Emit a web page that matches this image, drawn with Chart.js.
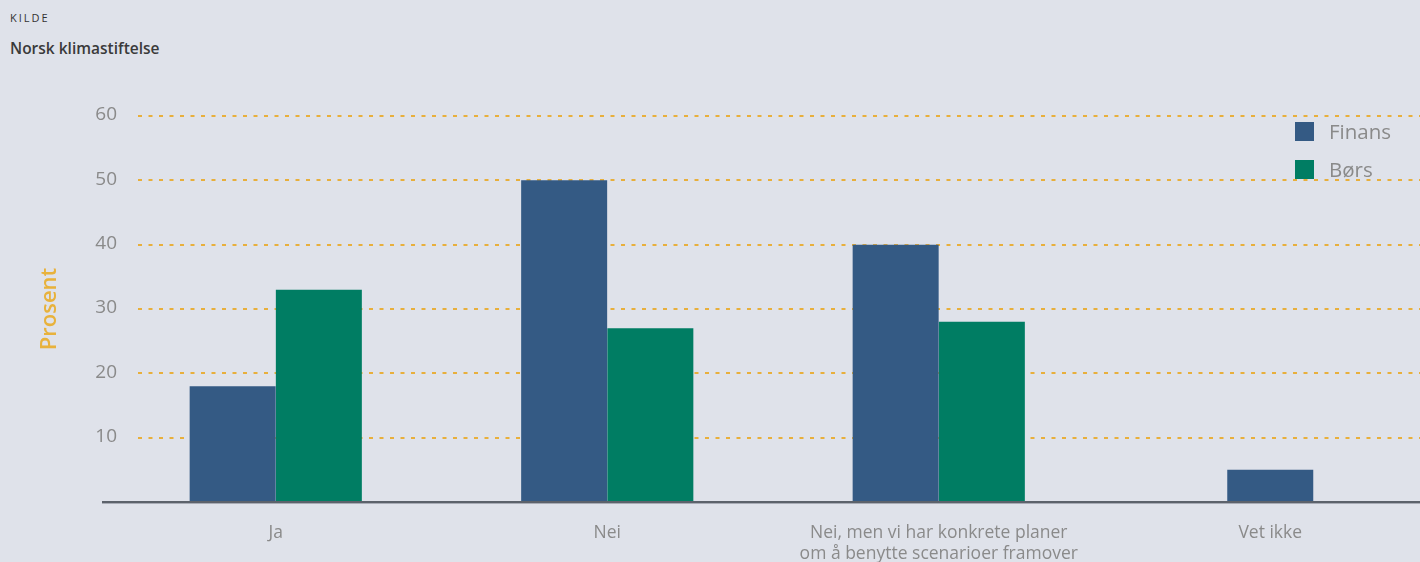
<!DOCTYPE html>
<html>
<head>
<meta charset="utf-8">
<script src="https://cdn.jsdelivr.net/npm/chart.js@4/dist/chart.umd.min.js"></script>
<style>
  html, body { margin: 0; padding: 0; background: #dfe2ea; overflow: hidden; width: 1420px; height: 562px; }
  #wrap { position: relative; width: 1420px; height: 562px; overflow: hidden; font-family: "Open Sans", Lato, sans-serif; }
  #kilde { position: absolute; left: 10px; top: 10px; font-size: 11px; letter-spacing: 2px; color: #333; font-weight: 500; }
  #src { position: absolute; left: 10px; top: 37px; font-size: 15.5px; color: #3a3a3a; font-weight: 600; }
  #cv { position: absolute; left: 0; top: 0; }
  #legend { position: absolute; left: 1295px; top: 112px; }
  .li { display: flex; align-items: center; height: 38px; font-size: 20.5px; color: #8a8a8a; }
  .li span.box { width: 19px; height: 19px; margin-right: 15px; display: inline-block; }
</style>
</head>
<body>
<div id="wrap">
  <div id="kilde">KILDE</div>
  <div id="src">Norsk klimastiftelse</div>
  <canvas id="cv" width="1436" height="562"></canvas>
  <div id="legend"></div>
</div>
<script>
const categories = ["Ja", "Nei", ["Nei, men vi har konkrete planer", "om å benytte scenarioer framover"], "Vet ikke"];
const finans = [18, 50, 40, 5];
const bors = [33, 27, 28, null];
const seriesNames = ["Finans", "Børs"];
const seriesColors = ["#345a84", "#007d63"];
const yTicks = [10, 20, 30, 40, 50, 60];
const yTitle = "Prosent";

const gridPlugin = {
  id: 'customGrid',
  beforeDatasetsDraw(chart) {
    const ctx = chart.ctx, y = chart.scales.y;
    ctx.save();
    ctx.strokeStyle = '#e8af3c';
    ctx.lineWidth = 2;
    ctx.setLineDash([4, 6.5]);
    yTicks.forEach(v => {
      const py = Math.round(y.getPixelForValue(v));
      ctx.beginPath();
      ctx.moveTo(138, py);
      ctx.lineTo(chart.width, py);
      ctx.stroke();
    });
    ctx.setLineDash([]);
    ctx.fillStyle = '#8a8a8a';
    ctx.font = '19px "Open Sans"';
    ctx.textAlign = 'right';
    ctx.textBaseline = 'middle';
    yTicks.forEach(v => {
      ctx.fillText(String(v), 117, y.getPixelForValue(v) - 1);
    });
    ctx.restore();
  },
  afterDatasetsDraw(chart) {
    const ctx = chart.ctx, y = chart.scales.y;
    const py = y.getPixelForValue(0);
    ctx.save();
    ctx.fillStyle = '#5c626b';
    ctx.fillRect(102, py - 1, chart.width - 102, 2);
    ctx.fillStyle = '#a8acb6';
    ctx.fillRect(102, py + 1, chart.width - 102, 1);
    ctx.restore();
  }
};

const chart = new Chart(document.getElementById('cv'), {
  type: 'bar',
  data: {
    labels: categories,
    datasets: [
      { label: seriesNames[0], data: finans, backgroundColor: seriesColors[0], skipNull: true },
      { label: seriesNames[1], data: bors, backgroundColor: seriesColors[1], skipNull: true }
    ]
  },
  options: {
    responsive: false,
    animation: false,
    devicePixelRatio: 1,
    layout: { padding: { top: 116, right: 0, left: 0, bottom: 0 } },
    datasets: { bar: { categoryPercentage: 0.52, barPercentage: 1.0, maxBarThickness: 86 } },
    plugins: {
      legend: { display: false },
      tooltip: { enabled: false }
    },
    scales: {
      x: {
        grid: { display: false, drawTicks: false },
        border: { display: false },
        ticks: { color: '#8a8a8a', font: { family: 'Open Sans', size: 17.5, lineHeight: 1.17 }, padding: 21, maxRotation: 0, autoSkip: false },
        afterFit(scale) { scale.height = 60; }
      },
      y: {
        min: 0, max: 60,
        grid: { display: false, drawTicks: false },
        border: { display: false },
        ticks: { stepSize: 10, display: false },
        title: { display: true, text: yTitle, color: '#e8b23c', font: { family: 'Open Sans', size: 22, weight: '600' }, padding: { top: 37, bottom: 0 } },
        afterFit(scale) { scale.width = 110; }
      }
    }
  },
  plugins: [gridPlugin]
});

const legend = document.getElementById('legend');
seriesNames.forEach((n, i) => {
  const d = document.createElement('div');
  d.className = 'li';
  d.innerHTML = '<span class="box" style="background:' + seriesColors[i] + '"></span>' + n;
  legend.appendChild(d);
});
</script>
</body>
</html>
